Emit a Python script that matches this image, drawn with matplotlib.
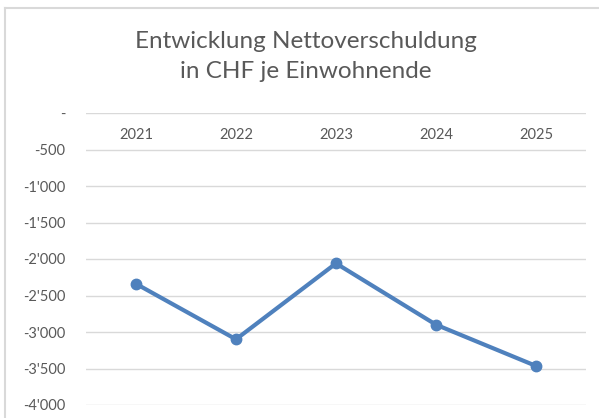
import matplotlib.pyplot as plt
from matplotlib.lines import Line2D
import numpy as np

# Nettoverschuldung je Einwohnende (CHF)
years = ["2021", "2022", "2023", "2024", "2025"]
net_debt = [-2340, -3100, -2060, -2900, -3465]
y_ticks = [0, -500, -1000, -1500, -2000, -2500, -3000, -3500, -4000]


def fmt(v):
    if v == 0:
        return "-"
    return f"{v:,.0f}".replace(",", "'")


plt.rcParams["font.family"] = ["Lato", "DejaVu Sans"]

fig = plt.figure(figsize=(5.99, 4.18), dpi=100)
ax = fig.add_axes([86 / 599, 1 - 405 / 418, 500 / 599, 292 / 418])

x = np.arange(len(years))
ax.plot(x, net_debt, color="#4F81BD", linewidth=3.0, marker="o",
        markersize=7.5, solid_capstyle="round", zorder=3)

ax.set_xlim(-0.5, len(years) - 0.5)
ax.set_ylim(-4000, 0)
ax.set_yticks(y_ticks)
ax.set_yticklabels([fmt(v) for v in y_ticks])
ax.set_xticks(x)
ax.set_xticklabels(years)

ax.grid(axis="y", color="#D9D9D9", linewidth=1.0)
ax.set_axisbelow(True)
for s in ax.spines.values():
    s.set_visible(False)

ax.tick_params(axis="y", length=0, pad=15, labelsize=10.5, labelcolor="#595959")
ax.tick_params(axis="x", length=0, labelsize=10.5, labelcolor="#595959",
               labeltop=True, labelbottom=False, top=False, bottom=False,
               pad=-21)

fig.text(306 / 599, 1 - 42 / 418, "Entwicklung Nettoverschuldung",
         ha="center", va="center", fontsize=17.5, color="#595959")
fig.text(306 / 599, 1 - 72 / 418, "in CHF je Einwohnende",
         ha="center", va="center", fontsize=17.5, color="#595959")

# chart frame (only top and left edges visible)
fig.add_artist(Line2D([5 / 599, 5 / 599], [0, 1 - 8 / 418],
                      transform=fig.transFigure, color="#D9D9D9", linewidth=1.5))
fig.add_artist(Line2D([5 / 599, 1], [1 - 8 / 418, 1 - 8 / 418],
                      transform=fig.transFigure, color="#D9D9D9", linewidth=1.5))

fig.savefig("out.png", dpi=100)
